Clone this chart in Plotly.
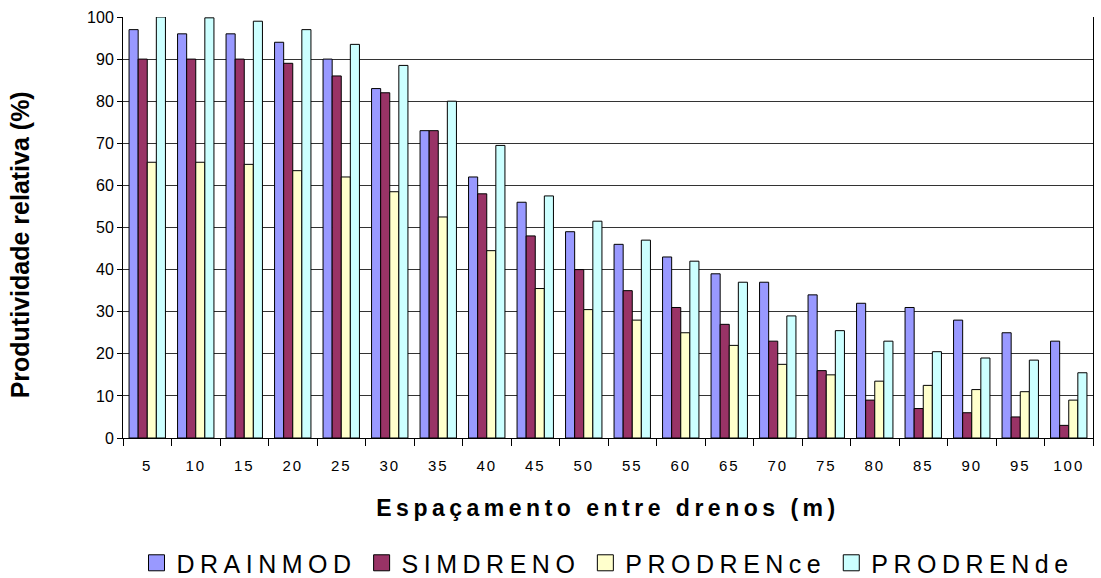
import plotly.graph_objects as go

categories = ["5", "10", "15", "20", "25", "30", "35", "40", "45", "50",
              "55", "60", "65", "70", "75", "80", "85", "90", "95", "100"]
drainmod = [97, 96, 96, 94, 90, 83, 73, 62, 56, 49, 46, 43, 39, 37, 34, 32, 31, 28, 25, 23]
simdreno = [90, 90, 90, 89, 86, 82, 73, 58, 48, 40, 35, 31, 27, 23, 16, 9, 7, 6, 5, 3]
prodrence = [65.5, 65.5, 65, 63.5, 62, 58.5, 52.5, 44.5, 35.5, 30.5, 28, 25, 22, 17.5, 15, 13.5, 12.5, 11.5, 11, 9]
prodrende = [100, 99.8, 99, 97, 93.5, 88.5, 80, 69.5, 57.5, 51.5, 47, 42, 37, 29, 25.5, 23, 20.5, 19, 18.5, 15.5]

series = [
    ("DRAINMOD", drainmod, "#9999FF"),
    ("SIMDRENO", simdreno, "#993366"),
    ("PRODRENce", prodrence, "#FFFFCC"),
    ("PRODRENde", prodrende, "#CCFFFF"),
]

FONT = "Liberation Sans, Arial, sans-serif"


def spaced(t, px):
    return '<span style="letter-spacing:%spx">%s</span>' % (px, t)


fig = go.Figure()
for name, vals, col in series:
    fig.add_trace(go.Bar(
        x=categories, y=vals, name=name, showlegend=False,
        marker=dict(color=col, line=dict(color="#000000", width=1)),
    ))
# legend entries (bigger square swatches, as in the reference)
for name, vals, col in series:
    fig.add_trace(go.Scatter(
        x=[None], y=[None], mode="markers", name=spaced(name, 5.5),
        marker=dict(symbol="square", size=24, color=col,
                    line=dict(color="#000000", width=1)),
    ))

fig.update_layout(
    width=1101, height=578,
    margin=dict(l=123, r=8, t=17, b=140, autoexpand=False),
    paper_bgcolor="white", plot_bgcolor="white",
    barmode="group", bargap=0.25, bargroupgap=0,
    font=dict(family=FONT, color="black"),
    showlegend=True,
    legend=dict(orientation="h", x=0.5, xanchor="center", y=-0.297, yanchor="middle",
                font=dict(size=25, family=FONT), itemwidth=30,
                traceorder="normal"),
    xaxis=dict(
        type="category", tickson="boundaries", ticks="outside", ticklen=7,
        tickcolor="black", showline=True, linecolor="black", linewidth=1,
        tickmode="array", tickvals=categories,
        ticktext=[spaced(c, 2) for c in categories],
        tickfont=dict(size=15, family=FONT), ticklabelstandoff=14,
        title=dict(text=spaced("Espaçamento entre drenos (m)", 4.5),
                   font=dict(size=23, family=FONT, weight="bold"), standoff=26),
        showgrid=False, automargin=False,
    ),
    yaxis=dict(
        range=[0, 100], dtick=10, ticks="outside", ticklen=5, tickcolor="black",
        showline=True, linecolor="black", linewidth=1, mirror=True,
        showgrid=True, gridcolor="#333333", gridwidth=1,
        tickfont=dict(size=16, family=FONT),
        zeroline=False, automargin=False,
    ),
    annotations=[dict(
        text="Produtividade relativa (%)", textangle=-90,
        xref="paper", yref="paper", x=-0.1062, y=0.46,
        xanchor="center", yanchor="middle", showarrow=False,
        font=dict(size=25, family=FONT, weight="bold", color="black"),
    )],
)

fig.write_html("out.html")
